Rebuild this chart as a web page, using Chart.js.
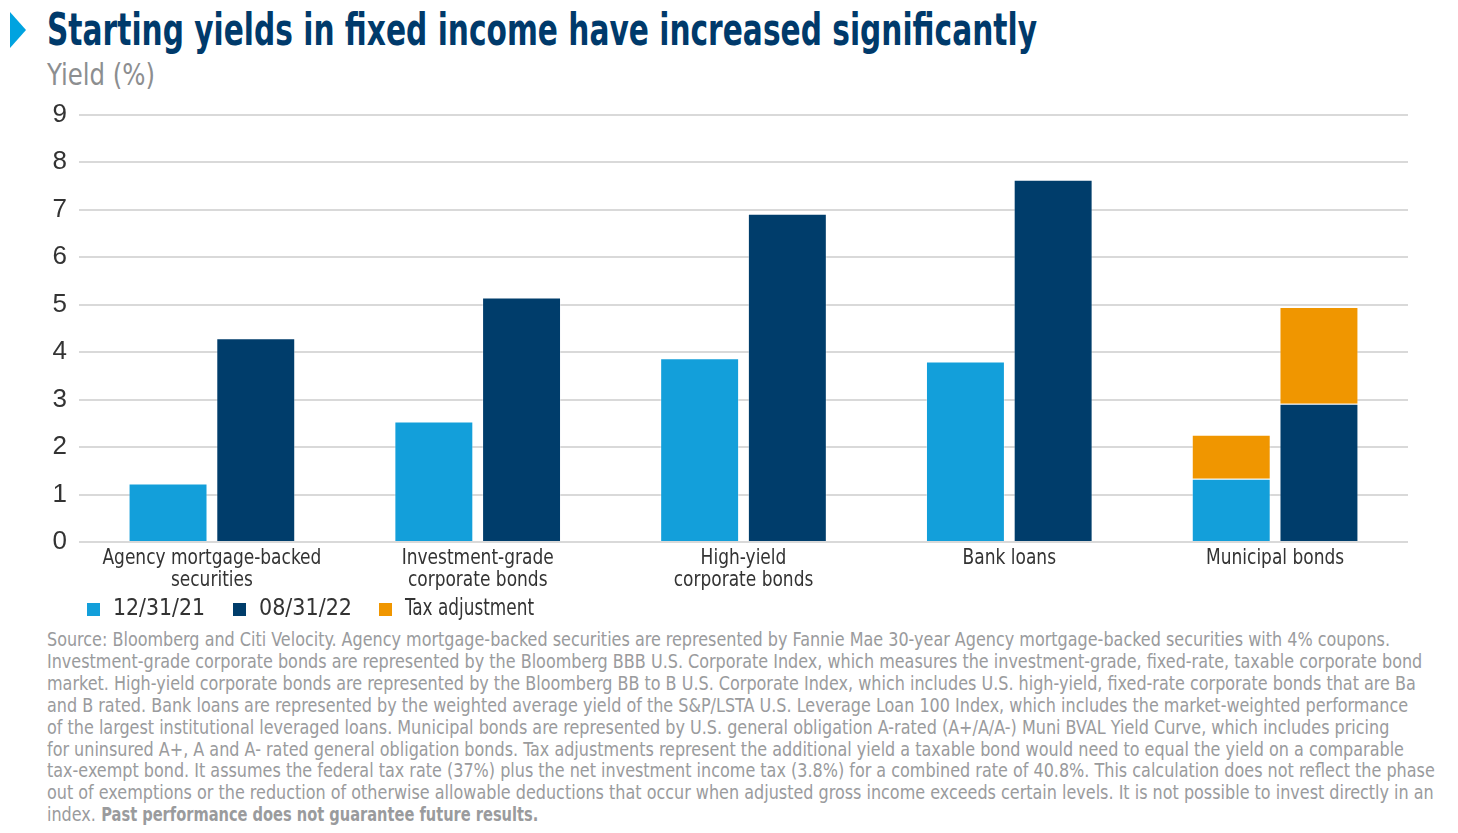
<!DOCTYPE html>
<html>
<head>
<meta charset="utf-8">
<script src="https://cdn.jsdelivr.net/npm/chart.js@4"></script>
<style>
  body { margin: 0; background: #fff; width: 1458px; height: 833px; overflow: hidden; position: relative; }
  .narrow { font-family: "Liberation Sans Narrow", "DejaVu Sans Condensed", sans-serif; transform-origin: 0 0; white-space: nowrap; }
  #arrow { position: absolute; left: 10px; top: 12px; width: 0; height: 0;
    border-top: 18px solid transparent; border-bottom: 18px solid transparent; border-left: 16px solid #00a3e0; }
  #title { position: absolute; left: 47px; top: 3px; font-size: 45px; font-weight: bold; color: #003a6b; }
  #ylabel { position: absolute; left: 47px; top: 57px; font-size: 30px; color: #8c8e90; }
  #wrap { position: absolute; left: 0; top: 87px; width: 1458px; height: 510px; }
  #legend { position: absolute; left: 0; top: 594px; width: 700px; height: 30px; font-size: 23px; color: #333; }
  #legend .item { position: absolute; top: 0; white-space: nowrap; }
  #legend i { position: absolute; left: 0; top: 9px; width: 13px; height: 13px; }
  #legend .txt { position: absolute; left: 26px; top: 0; display: inline-block; transform-origin: 0 0; }
  #source { position: absolute; left: 47px; top: 629px; font-size: 20px; line-height: 21.9px; color: #9a9b9d; }
  #source b { display: inline-block; transform-origin: 0 0; }
</style>
</head>
<body>
<div id="arrow"></div>
<div id="title" class="narrow">Starting yields in fixed income have increased significantly</div>
<div id="ylabel" class="narrow">Yield (%)</div>
<div id="wrap"><canvas id="yieldChart"></canvas></div>
<div id="legend" class="narrow"></div>
<div id="source" class="narrow">
  <div>Source: Bloomberg and Citi Velocity. Agency mortgage-backed securities are represented by Fannie Mae 30-year Agency mortgage-backed securities with 4% coupons.</div>
  <div>Investment-grade corporate bonds are represented by the Bloomberg BBB U.S. Corporate Index, which measures the investment-grade, fixed-rate, taxable corporate bond</div>
  <div>market. High-yield corporate bonds are represented by the Bloomberg BB to B U.S. Corporate Index, which includes U.S. high-yield, fixed-rate corporate bonds that are Ba</div>
  <div>and B rated. Bank loans are represented by the weighted average yield of the S&amp;P/LSTA U.S. Leverage Loan 100 Index, which includes the market-weighted performance</div>
  <div>of the largest institutional leveraged loans. Municipal bonds are represented by U.S. general obligation A-rated (A+/A/A-) Muni BVAL Yield Curve, which includes pricing</div>
  <div>for uninsured A+, A and A- rated general obligation bonds. Tax adjustments represent the additional yield a taxable bond would need to equal the yield on a comparable</div>
  <div>tax-exempt bond. It assumes the federal tax rate (37%) plus the net investment income tax (3.8%) for a combined rate of 40.8%. This calculation does not reflect the phase</div>
  <div>out of exemptions or the reduction of otherwise allowable deductions that occur when adjusted gross income exceeds certain levels. It is not possible to invest directly in an</div>
  <div>index. <b>Past performance does not guarantee future results.</b></div>
</div>
<script>
const categories = [
    ["Agency mortgage-backed", "securities"],
    ["Investment-grade", "corporate bonds"],
    ["High-yield", "corporate bonds"],
    ["Bank loans"],
    ["Municipal bonds"]
];
const yieldDec21 = [1.23, 2.54, 3.87, 3.80, 1.33];
const yieldAug22 = [4.29, 5.15, 6.91, 7.63, 2.91];
const taxAdjDec21 = [null, null, null, null, 0.93];
const taxAdjAug22 = [null, null, null, null, 2.04];

const colLight = "#139fda";
const colDark = "#003d6b";
const colTax = "#f09600";
const narrowFont = '"Liberation Sans Narrow", "DejaVu Sans Condensed", sans-serif';

// html legend, three entries only: [text, colour, left, text width]
const legendItems = [["12/31/21", colLight, 87, 92], ["08/31/22", colDark, 233, 93], ["Tax adjustment", colTax, 379, 129]];
document.getElementById("legend").innerHTML = legendItems.map(function (it) {
    return "<div class='item' style='left:" + it[2] + "px'><i style='background:" + it[1] + "'></i><span class='txt'>" + it[0] + "</span></div>";
}).join("");

// no narrow font installed, so squeeze the text blocks to the widths of the original
function squeeze(el, width, ref) {
    const w = (ref || el).getBoundingClientRect().width;
    el.style.transform = "scaleX(" + (width / w) + ")";
    return width / w;
}
const srcBox = document.getElementById("source");
srcBox.querySelectorAll("div").forEach(function (d) { d.style.display = "inline-block"; d.insertAdjacentHTML("afterend", "<br>"); });
squeeze(document.getElementById("title"), 990);
squeeze(document.getElementById("ylabel"), 108);
document.querySelectorAll("#legend .txt").forEach(function (t, i) { squeeze(t, legendItems[i][3]); });
squeeze(srcBox, 1343, srcBox.querySelector("div"));
const boldPart = srcBox.querySelector("b");
boldPart.style.transform = "scaleX(" + (437 / boldPart.getBoundingClientRect().width) + ")";

// x labels drawn narrow, centred on the category ticks
const narrowLabels = {
    id: "narrowLabels",
    afterDraw: function (chart) {
        const xs = chart.scales.x;
        const c = chart.ctx;
        c.save();
        c.font = "22px " + narrowFont;
        c.fillStyle = "#333";
        c.textAlign = "center";
        c.textBaseline = "middle";
        categories.forEach(function (lines, i) {
            const x = xs.getPixelForTick(i);
            lines.forEach(function (line, j) {
                c.save();
                c.translate(x, chart.chartArea.bottom + 16 + j * 22.5);
                c.scale(0.86, 1);
                c.fillText(line, 0, 0);
                c.restore();
            });
        });
        c.restore();
    }
};

const ctx = document.getElementById("yieldChart").getContext("2d");
const yieldChart = new Chart(ctx, {
    type: "bar",
    data: {
        labels: categories,
        datasets: [
            { label: "12/31/21", data: yieldDec21, stack: "dec", backgroundColor: colLight, borderColor: "rgba(255,255,255,0.35)", borderWidth: 1 },
            { label: "08/31/22", data: yieldAug22, stack: "aug", backgroundColor: colDark, borderColor: "rgba(255,255,255,0.35)", borderWidth: 1 },
            { label: "Tax adjustment", data: taxAdjDec21, stack: "dec", backgroundColor: colTax, borderColor: "rgba(255,255,255,0.35)", borderWidth: 1 },
            { label: "Tax adjustment", data: taxAdjAug22, stack: "aug", backgroundColor: colTax, borderColor: "rgba(255,255,255,0.35)", borderWidth: 1 }
        ]
    },
    options: {
        responsive: true,
        maintainAspectRatio: false,
        animation: false,
        categoryPercentage: 0.66,
        barPercentage: 0.9,
        layout: { padding: { top: 4, right: 50, left: 0, bottom: 0 } },
        plugins: {
            legend: { display: false },
            tooltip: { enabled: false }
        },
        scales: {
            x: {
                stacked: true,
                grid: { display: false },
                border: { display: false },
                ticks: { display: false },
                afterFit: function (scale) { scale.height = 55; }
            },
            y: {
                stacked: true,
                min: 0,
                max: 9,
                grid: { color: "#d9d9d9", lineWidth: 2, drawTicks: false },
                border: { display: false },
                ticks: {
                    stepSize: 1,
                    color: "#333",
                    padding: 12,
                    font: { family: "Liberation Sans, Arial, sans-serif", size: 26 }
                },
                afterFit: function (scale) { scale.width = 79; }
            }
        }
    },
    plugins: [narrowLabels]
});
</script>
</body>
</html>
